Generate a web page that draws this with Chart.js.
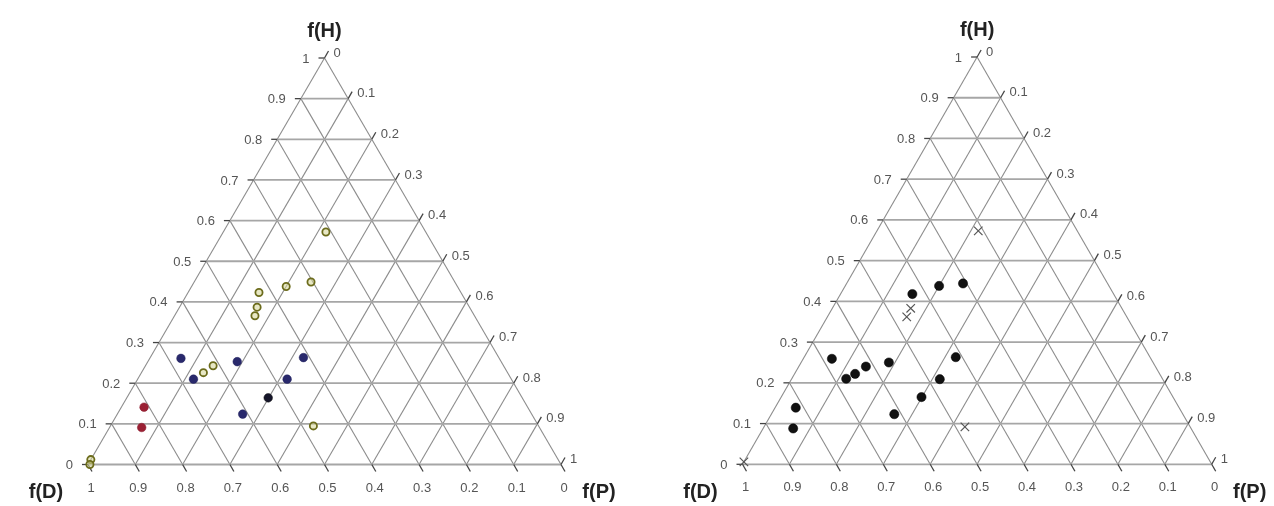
<!DOCTYPE html>
<html>
<head>
<meta charset="utf-8">
<title>Ternary plots f(H) f(D) f(P)</title>
<script src="https://cdn.jsdelivr.net/npm/chart.js"></script>
<style>
  html, body { margin: 0; padding: 0; background: #fff; }
  #wrap { position: relative; width: 1274px; height: 506px; overflow: hidden; }
  canvas { position: absolute; top: 0; }
  #leftTernary { left: 0; }
  #rightTernary { left: 637px; }
</style>
</head>
<body>
<div id="wrap">
  <canvas id="leftTernary" width="637" height="506"></canvas>
  <canvas id="rightTernary" width="637" height="506"></canvas>
</div>
<script>
// tick values / labels shared by the three axes
const tickValues = [0, 0.1, 0.2, 0.3, 0.4, 0.5, 0.6, 0.7, 0.8, 0.9, 1];
const tickLabels = ['0', '0.1', '0.2', '0.3', '0.4', '0.5', '0.6', '0.7', '0.8', '0.9', '1'];
const axisTitles = ['f(H)', 'f(D)', 'f(P)'];

// left panel: fractions f(H) and f(P) per group (f(D) = 1 - H - P)
const leftOliveH = [0.572, 0.438, 0.449, 0.423, 0.387, 0.366, 0.226, 0.243, 0.095, 0.012, 0.0];
const leftOliveP = [0.217, 0.200, 0.247, 0.150, 0.164, 0.170, 0.131, 0.143, 0.429, 0.0, 0.004];
const leftNavyH = [0.261, 0.210, 0.253, 0.263, 0.210, 0.124];
const leftNavyP = [0.066, 0.118, 0.189, 0.324, 0.316, 0.265];
const leftDarkH = [0.164];
const leftDarkP = [0.299];
const leftRedH = [0.141, 0.091];
const leftRedP = [0.048, 0.068];

// right panel
const rightDotH = [0.418, 0.438, 0.444, 0.259, 0.210, 0.222, 0.240, 0.250, 0.263, 0.209, 0.165, 0.123, 0.139, 0.088];
const rightDotP = [0.153, 0.200, 0.248, 0.061, 0.116, 0.129, 0.143, 0.187, 0.323, 0.316, 0.299, 0.262, 0.044, 0.064];
const rightCrossH = [0.573, 0.362, 0.383, 0.092, 0.006];
const rightCrossP = [0.216, 0.169, 0.167, 0.428, 0.0];

// ternary (H, P) -> cartesian: x = P + H/2, y = H
function toXY(hs, ps) {
  return hs.map((h, i) => ({ x: ps[i] + h / 2, y: h }));
}

const ternaryGrid = {
  id: 'ternaryGrid',
  beforeDatasetsDraw(chart) {
    const ctx = chart.ctx;
    const xs = chart.scales.x, ys = chart.scales.y;
    const px = (x, y) => [xs.getPixelForValue(x), ys.getPixelForValue(y)];
    const line = (a, b) => {
      ctx.beginPath();
      ctx.moveTo(a[0], a[1]);
      ctx.lineTo(b[0], b[1]);
      ctx.stroke();
    };
    ctx.save();

    // constant P and constant D lines (diagonals)
    ctx.strokeStyle = '#8c8c8c';
    ctx.lineWidth = 1.1;
    tickValues.forEach(v => {
      line(px(v, 0), px(v + (1 - v) / 2, 1 - v));
      line(px(1 - v, 0), px((1 - v) / 2, 1 - v));
    });
    // constant H lines
    ctx.strokeStyle = '#a6a6a6';
    ctx.lineWidth = 1.8;
    tickValues.forEach(v => {
      if (v < 1) line(px(v / 2, v), px(1 - v / 2, v));
    });

    // ticks and labels
    ctx.strokeStyle = '#444';
    ctx.lineWidth = 1.3;
    ctx.fillStyle = '#555';
    ctx.font = '13px "Liberation Sans", Arial, sans-serif';
    tickValues.forEach((v, i) => {
      const lab = tickLabels[i];
      // f(H) on the left edge
      const l = px(v / 2, v);
      line([l[0] - 6, l[1]], l);
      ctx.textAlign = 'right';
      ctx.textBaseline = 'middle';
      ctx.fillText(lab, l[0] - 15, l[1] + 1);
      // f(P) on the right edge
      const r = px((1 + v) / 2, 1 - v);
      const re = [r[0] + 4, r[1] - 7];
      line(r, re);
      ctx.textAlign = 'left';
      ctx.fillText(lab, re[0] + 5, re[1] + 2);
      // f(D) on the bottom edge
      const b = px(1 - v, 0);
      const be = [b[0] + 4, b[1] + 7];
      line(b, be);
      ctx.textAlign = 'center';
      ctx.textBaseline = 'top';
      ctx.fillText(lab, b[0] + 3, b[1] + 17);
    });

    // axis titles
    ctx.fillStyle = '#222';
    ctx.font = 'bold 20px "Liberation Sans", Arial, sans-serif';
    ctx.textAlign = 'center';
    ctx.textBaseline = 'middle';
    const apex = px(0.5, 1), bl = px(0, 0), br = px(1, 0);
    ctx.fillText(axisTitles[0], apex[0], apex[1] - 27);
    ctx.fillText(axisTitles[1], bl[0] - 42, bl[1] + 28);
    ctx.fillText(axisTitles[2], br[0] + 38, br[1] + 28);
    ctx.restore();
  }
};

function makeTernary(id, padding, datasets) {
  return new Chart(document.getElementById(id), {
    type: 'scatter',
    data: { datasets: datasets },
    options: {
      responsive: false,
      animation: false,
      layout: { padding: padding },
      plugins: { legend: { display: false }, tooltip: { enabled: false } },
      scales: {
        x: { type: 'linear', min: 0, max: 1, display: false },
        y: { type: 'linear', min: 0, max: 1, display: false }
      }
    },
    plugins: [ternaryGrid]
  });
}

makeTernary('leftTernary', { left: 88, right: 76, top: 58, bottom: 41.5 }, [
  {
    label: 'olive', data: toXY(leftOliveH, leftOliveP), clip: false,
    pointStyle: 'circle', pointRadius: 3.6, borderWidth: 1.8,
    borderColor: '#6c6c1c', backgroundColor: 'rgba(214,214,150,0.55)'
  },
  {
    label: 'navy', data: toXY(leftNavyH, leftNavyP), clip: false,
    pointStyle: 'circle', pointRadius: 4.3, borderWidth: 0.5,
    borderColor: '#23235e', backgroundColor: '#29296c'
  },
  {
    label: 'dark', data: toXY(leftDarkH, leftDarkP), clip: false,
    pointStyle: 'circle', pointRadius: 4.3, borderWidth: 0.5,
    borderColor: '#111', backgroundColor: '#15152a'
  },
  {
    label: 'red', data: toXY(leftRedH, leftRedP), clip: false,
    pointStyle: 'circle', pointRadius: 4.3, borderWidth: 0.5,
    borderColor: '#8a1a2c', backgroundColor: '#9a2034'
  }
]);

makeTernary('rightTernary', { left: 105.5, right: 62.3, top: 57, bottom: 41.7 }, [
  {
    label: 'dots', data: toXY(rightDotH, rightDotP), clip: false,
    pointStyle: 'circle', pointRadius: 4.6, borderWidth: 0.5,
    borderColor: '#000', backgroundColor: '#111'
  },
  {
    label: 'crosses', data: toXY(rightCrossH, rightCrossP), clip: false,
    pointStyle: 'crossRot', pointRadius: 6, borderWidth: 1.2,
    borderColor: '#555', backgroundColor: '#555'
  }
]);
</script>
</body>
</html>
